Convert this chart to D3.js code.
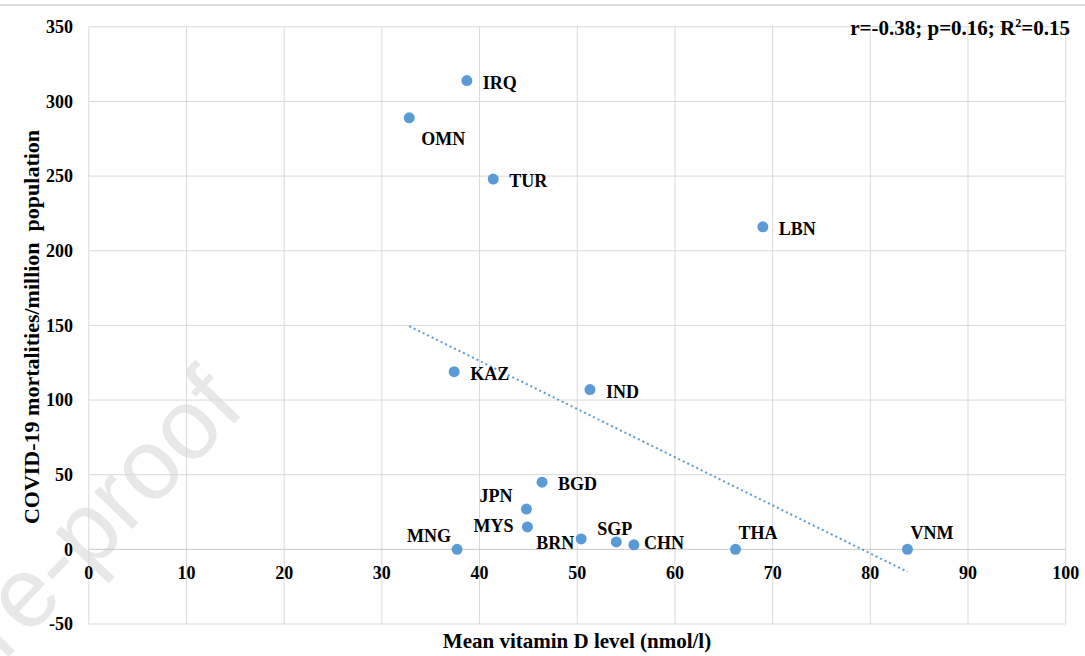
<!DOCTYPE html>
<html>
<head>
<meta charset="utf-8">
<script src="https://cdn.jsdelivr.net/npm/d3@7"></script>
<style>
  body { margin: 0; background: #fff; }
  text { font-family: "Liberation Serif", "Times New Roman", serif; font-weight: bold; fill: #000; }
</style>
</head>
<body>
<svg id="chart" width="1085" height="656"></svg>
<script>
// country codes, vitamin D (x) and mortality (y)
var countries = ["IRQ", "OMN", "TUR", "LBN", "KAZ", "IND", "BGD", "JPN", "MYS", "BRN", "SGP", "CHN", "MNG", "THA", "VNM"];
var vitaminD = [38.7, 32.8, 41.4, 69.0, 37.4, 51.3, 46.4, 44.8, 44.9, 50.4, 54.0, 55.8, 37.7, 66.2, 83.8];
var mortality = [314, 289, 248, 216, 119, 107, 45, 27, 15, 7, 5, 3, 0, 0, 0];
// where the label sits relative to its point
var labelPos = ["right", "belowright", "right", "right", "right", "right", "right", "aboveleft", "left", "belowleft", "aboveleftS", "rightN", "aboveleftN", "above", "above"];

var xTicks = [0, 10, 20, 30, 40, 50, 60, 70, 80, 90, 100];
var yTicks = [-50, 0, 50, 100, 150, 200, 250, 300, 350];

var svg = d3.select("#chart");

var x = d3.scaleLinear().domain([0, 100]).range([88.8, 1065.7]);
var y = d3.scaleLinear().domain([-50, 350]).range([624, 26.8]);

// page border line at top
svg.append("line").attr("x1", 0).attr("x2", 1085).attr("y1", 5).attr("y2", 5)
  .attr("stroke", "#dcdcdc").attr("stroke-width", 2);

// watermark
svg.append("text")
  .attr("transform", "translate(4,662) rotate(-46)")
  .style("font-family", "'Liberation Sans', Arial, sans-serif")
  .style("font-weight", "normal")
  .style("font-size", "100px")
  .style("fill", "#e8e8e8")
  .text("re-proof");

// gridlines
svg.append("g").selectAll("line").data(xTicks).enter().append("line")
  .attr("x1", function(d) { return x(d); }).attr("x2", function(d) { return x(d); })
  .attr("y1", y(350)).attr("y2", y(-50))
  .attr("stroke", "#d9d9d9").attr("stroke-width", 1);
svg.append("g").selectAll("line").data(yTicks).enter().append("line")
  .attr("x1", x(0)).attr("x2", x(100))
  .attr("y1", function(d) { return y(d); }).attr("y2", function(d) { return y(d); })
  .attr("stroke", function(d) { return d == 0 ? "#c8c8c8" : "#d9d9d9"; }).attr("stroke-width", 1);

// tick labels
svg.append("g").selectAll("text").data(yTicks).enter().append("text")
  .attr("x", 73).attr("y", function(d) { return y(d); })
  .attr("dy", "0.35em").attr("text-anchor", "end")
  .style("font-size", "18px")
  .text(function(d) { return d; });
svg.append("g").selectAll("text").data(xTicks).enter().append("text")
  .attr("x", function(d) { return x(d); }).attr("y", y(0) + 23)
  .attr("dy", "0.35em").attr("text-anchor", "middle")
  .style("font-size", "18px")
  .text(function(d) { return d; });

// axis titles
svg.append("text")
  .attr("x", 577).attr("y", 648)
  .attr("text-anchor", "middle")
  .style("font-size", "21px")
  .text("Mean vitamin D level (nmol/l)");
svg.append("text")
  .attr("transform", "translate(39," + 327 + ") rotate(-90)")
  .attr("text-anchor", "middle")
  .style("font-size", "22px")
  .style("white-space", "pre")
  .text("COVID-19 mortalities/million  population");

// stats
var stats = svg.append("text")
  .attr("x", 1070).attr("y", 35)
  .attr("text-anchor", "end")
  .style("font-size", "21px");
stats.append("tspan").text("r=-0.38; p=0.16; R");
stats.append("tspan").attr("dy", -8).style("font-size", "12px").text("2");
stats.append("tspan").attr("dy", 8).text("=0.15");

// linear trend line
var data = countries.map(function(c, i) { return {code: c, vd: vitaminD[i], m: mortality[i], pos: labelPos[i]}; });
var mx = d3.mean(vitaminD), my = d3.mean(mortality);
var sxy = d3.sum(data, function(d) { return (d.vd - mx) * (d.m - my); });
var sxx = d3.sum(data, function(d) { return (d.vd - mx) * (d.vd - mx); });
var slope = sxy / sxx, icpt = my - slope * mx;
var x0 = d3.min(vitaminD), x1 = d3.max(vitaminD);
svg.append("line")
  .attr("x1", x(x0)).attr("y1", y(icpt + slope * x0))
  .attr("x2", x(x1)).attr("y2", y(icpt + slope * x1))
  .attr("stroke", "#5b9bd5").attr("stroke-width", 2)
  .attr("stroke-dasharray", "2,3");

// points
svg.append("g").selectAll("circle").data(data).enter().append("circle")
  .attr("cx", function(d) { return x(d.vd); })
  .attr("cy", function(d) { return y(d.m); })
  .attr("r", 5.5)
  .attr("fill", "#5b9bd5");

// labels
var offsets = {
  right: [16, 2, "start"],
  rightN: [10, -2, "start"],
  belowright: [12, 21, "start"],
  left: [-14, -1, "end"],
  aboveleft: [-14, -13, "end"],
  aboveleftN: [-6, -14, "end"],
  aboveleftS: [16, -13, "end"],
  belowleft: [-7, 4, "end"],
  above: [3, -17, "start"]
};
svg.append("g").selectAll("text").data(data).enter().append("text")
  .attr("x", function(d) { return x(d.vd) + offsets[d.pos][0]; })
  .attr("y", function(d) { return y(d.m) + offsets[d.pos][1]; })
  .attr("dy", "0.35em")
  .attr("text-anchor", function(d) { return offsets[d.pos][2]; })
  .style("font-size", "18px")
  .text(function(d) { return d.code; });
</script>
</body>
</html>
